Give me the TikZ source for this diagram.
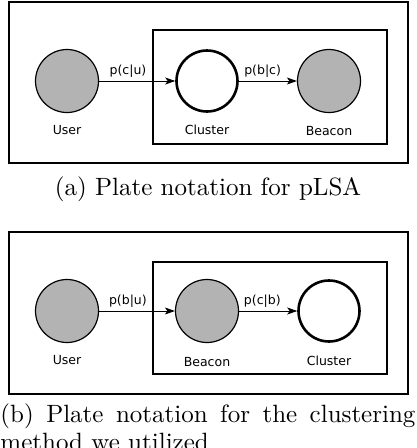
\documentclass[tikz,border=0pt]{standalone}
\usepackage{fontspec}
\usepackage{tikz}
\usetikzlibrary{positioning, arrows.meta}
\newfontfamily\diafont{DejaVu Sans}
\definecolor{obsgray}{RGB}{179,179,179}
\tikzset{
  obs/.style   ={draw, circle, fill=obsgray, line width=1.2pt, minimum size=63pt, inner sep=0pt},
  latent/.style={draw, circle, line width=2.6pt, minimum size=61pt, inner sep=0pt},
  plate/.style ={line width=2.6pt},
  lbl/.style   ={font=\diafont\fontsize{12.5}{14}\selectfont, inner sep=0pt},
  plab/.style  ={font=\diafont\fontsize{12.5}{14}\selectfont},
  captxt/.style={font=\fontsize{10}{11}\selectfont, scale=2.5, inner sep=0pt},
  line/.style  ={line width=0.9pt, -{Stealth[length=10pt, width=7pt, inset=2.5pt]}}
}

\begin{document}
\begin{tikzpicture}[x=1pt, y=-1pt]
  \useasboundingbox (0,0) rectangle (416,448);

  % (a) pLSA
  \draw[plate] (9,2) rectangle (408,163);
  \draw[plate, line width=2.3pt] (153,30) rectangle (387,144);
  \node[obs]    (user) at (67,81)  {};
  \node[latent] (clus) at (207,81) {};
  \node[obs]    (beac) at (329,81) {};
  \node[lbl, below=12pt of user] {User};
  \node[lbl, below=12pt of clus] {Cluster};
  \node[lbl, below=13pt of beac] {Beacon};
  \draw[line] (user) -- node[plab, above, pos=0.38] {p(c|u)} (clus);
  \draw[line] (clus) -- node[plab, above, pos=0.41] {p(b|c)} (beac);
  \node[captxt, anchor=base] (capa) at (208,195) {(a) Plate notation for pLSA};

  % (b) clustering
  \draw[plate] (9,232) rectangle (408,394);
  \draw[plate, line width=2.3pt] (153,262) rectangle (387,374);
  \node[obs]    (userB) at (67,311)  {};
  \node[obs]    (beacB) at (207,311) {};
  \node[latent] (clusB) at (329,311) {};
  \node[lbl, below=12pt of userB] {User};
  \node[lbl, below=14pt of beacB] {Beacon};
  \node[lbl, below=13pt of clusB] {Cluster};
  \draw[line] (userB) -- node[plab, above, pos=0.38] {p(b|u)} (beacB);
  \draw[line] (beacB) -- node[plab, above, pos=0.40] {p(c|b)} (clusB);
  \node[captxt, anchor=north west, text width=166pt, align=justify] (capb) at (0,403.3)
    {(b) Plate notation for the clustering\linebreak method we utilized};
\end{tikzpicture}
\end{document}
